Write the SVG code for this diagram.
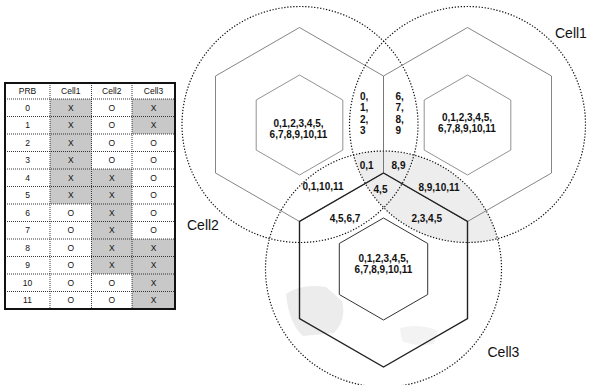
<svg xmlns="http://www.w3.org/2000/svg" width="589" height="385" viewBox="0 0 589 385">
<style>
.circ{fill:none;stroke:#111;stroke-width:1.2;stroke-dasharray:1.3 1.7}
.hex{fill:none;stroke:#777;stroke-width:0.9}
.hex3{fill:none;stroke:#222;stroke-width:1.4}
.ihex{fill:none;stroke:#777;stroke-width:0.8}
.ihex3{fill:none;stroke:#333;stroke-width:1}
.num{font-family:"Liberation Sans",Arial,sans-serif;font-size:10px;font-weight:bold;fill:#111;text-anchor:middle}
.col{font-family:"Liberation Sans",Arial,sans-serif;font-size:10px;font-weight:bold;fill:#111}
.lbl{font-family:"Liberation Sans",Arial,sans-serif;font-size:14px;fill:#111}
.tt{font-family:"Liberation Sans",Arial,sans-serif;font-size:8.5px;fill:#111;text-anchor:middle}
.grid{stroke:#222;stroke-width:0.9;stroke-dasharray:1 1;fill:none}
.shade{fill:#c8c8c8}
</style>
<defs>
<clipPath id="c1clip"><circle cx="467.5" cy="124.5" r="118"/></clipPath>
<clipPath id="c3clip"><circle cx="383.5" cy="269" r="118"/></clipPath>
</defs>
<rect width="589" height="385" fill="#fff"/>

<g id="table">
<rect class="shade" x="50" y="99" width="41.5" height="105"/>
<rect class="shade" x="91.5" y="169" width="40.5" height="105"/>
<rect class="shade" x="132" y="99" width="43" height="35"/>
<rect class="shade" x="132" y="239" width="43" height="70"/>
<g class="grid">
<line x1="50" y1="83" x2="50" y2="309"/>
<line x1="91.5" y1="83" x2="91.5" y2="309"/>
<line x1="132" y1="83" x2="132" y2="309"/>
<line x1="5" y1="99" x2="175" y2="99"/>
<line x1="5" y1="116.5" x2="175" y2="116.5"/>
<line x1="5" y1="134" x2="175" y2="134"/>
<line x1="5" y1="151.5" x2="175" y2="151.5"/>
<line x1="5" y1="169" x2="175" y2="169"/>
<line x1="5" y1="186.5" x2="175" y2="186.5"/>
<line x1="5" y1="204" x2="175" y2="204"/>
<line x1="5" y1="221.5" x2="175" y2="221.5"/>
<line x1="5" y1="239" x2="175" y2="239"/>
<line x1="5" y1="256.5" x2="175" y2="256.5"/>
<line x1="5" y1="274" x2="175" y2="274"/>
<line x1="5" y1="291.5" x2="175" y2="291.5"/>
</g>
<rect x="5" y="83" width="170" height="226" fill="none" stroke="#111" stroke-width="2"/>
<g class="tt">
<text x="27.5" y="94">PRB</text><text x="70.75" y="94">Cell1</text><text x="111.75" y="94">Cell2</text><text x="153.5" y="94">Cell3</text>
<text x="27.5" y="110.75">0</text><text x="70.75" y="110.75">X</text><text x="111.75" y="110.75">O</text><text x="153.5" y="110.75">X</text>
<text x="27.5" y="128.25">1</text><text x="70.75" y="128.25">X</text><text x="111.75" y="128.25">O</text><text x="153.5" y="128.25">X</text>
<text x="27.5" y="145.75">2</text><text x="70.75" y="145.75">X</text><text x="111.75" y="145.75">O</text><text x="153.5" y="145.75">O</text>
<text x="27.5" y="163.25">3</text><text x="70.75" y="163.25">X</text><text x="111.75" y="163.25">O</text><text x="153.5" y="163.25">O</text>
<text x="27.5" y="180.75">4</text><text x="70.75" y="180.75">X</text><text x="111.75" y="180.75">X</text><text x="153.5" y="180.75">O</text>
<text x="27.5" y="198.25">5</text><text x="70.75" y="198.25">X</text><text x="111.75" y="198.25">X</text><text x="153.5" y="198.25">O</text>
<text x="27.5" y="215.75">6</text><text x="70.75" y="215.75">O</text><text x="111.75" y="215.75">X</text><text x="153.5" y="215.75">O</text>
<text x="27.5" y="233.25">7</text><text x="70.75" y="233.25">O</text><text x="111.75" y="233.25">X</text><text x="153.5" y="233.25">O</text>
<text x="27.5" y="250.75">8</text><text x="70.75" y="250.75">O</text><text x="111.75" y="250.75">X</text><text x="153.5" y="250.75">X</text>
<text x="27.5" y="268.25">9</text><text x="70.75" y="268.25">O</text><text x="111.75" y="268.25">X</text><text x="153.5" y="268.25">X</text>
<text x="27.5" y="285.75">10</text><text x="70.75" y="285.75">O</text><text x="111.75" y="285.75">O</text><text x="153.5" y="285.75">X</text>
<text x="27.5" y="303.25">11</text><text x="70.75" y="303.25">O</text><text x="111.75" y="303.25">O</text><text x="153.5" y="303.25">X</text>
</g>
</g>

<g id="shading">
<circle cx="383.5" cy="269" r="118" fill="#ededed" clip-path="url(#c1clip)"/>
<path d="M286,294 Q302,283 326,287 L342,301 Q347,319 334,333 L303,336 Q289,324 286,294 Z" fill="#ececec" clip-path="url(#c3clip)"/>
<path d="M400,328 Q420,323 438,331 L434,344 Q415,347 402,341 Z" fill="#f3f3f3"/>
</g>

<g id="cell2">
<circle class="circ" cx="300" cy="124.5" r="118"/>
<polygon class="hex" points="299.5,27.5 383.5,76 383.5,173 299.5,221.5 215.5,173 215.5,76"/>
<polygon class="ihex" points="299.5,75 342.8,100 342.8,150 299.5,175 256.2,150 256.2,100"/>
<text class="num" x="298.5" y="127">0,1,2,3,4,5,</text>
<text class="num" x="298.5" y="138">6,7,8,9,10,11</text>
<text class="lbl" x="187" y="230">Cell2</text>
</g>

<g id="cell1">
<circle class="circ" cx="467.5" cy="124.5" r="118"/>
<polygon class="hex" points="467.5,27.5 551.5,76 551.5,173 467.5,221.5 383.5,173 383.5,76"/>
<polygon class="ihex" points="467.5,75 510.8,100 510.8,150 467.5,175 424.2,150 424.2,100"/>
<text class="num" x="467" y="121">0,1,2,3,4,5,</text>
<text class="num" x="467" y="132">6,7,8,9,10,11</text>
<text class="lbl" x="555" y="38">Cell1</text>
</g>

<g id="cell3">
<circle class="circ" cx="383.5" cy="269" r="118"/>
<polygon class="hex3" points="383.5,173 467.5,221.5 467.5,318.5 383.5,367 299.5,318.5 299.5,221.5"/>
<polygon class="ihex3" points="383.5,218 427.7,243.5 427.7,294.5 383.5,320 339.3,294.5 339.3,243.5"/>
<text class="num" x="383.5" y="261.5">0,1,2,3,4,5,</text>
<text class="num" x="383.5" y="272.5">6,7,8,9,10,11</text>
<text class="lbl" x="487.5" y="357">Cell3</text>
</g>

<g id="regions">
<text class="col" x="360" y="99.5">0,</text>
<text class="col" x="360" y="111">1,</text>
<text class="col" x="360" y="122.5">2,</text>
<text class="col" x="360" y="134">3</text>
<text class="col" x="395.5" y="99.5">6,</text>
<text class="col" x="395.5" y="111">7,</text>
<text class="col" x="395.5" y="122.5">8,</text>
<text class="col" x="395.5" y="134">9</text>
<text class="num" x="366.7" y="169">0,1</text>
<text class="num" x="398.5" y="169">8,9</text>
<text class="num" x="380.5" y="193">4,5</text>
<text class="num" x="323" y="190">0,1,10,11</text>
<text class="num" x="439" y="190.5">8,9,10,11</text>
<text class="num" x="345" y="222.3">4,5,6,7</text>
<text class="num" x="426.7" y="222.3">2,3,4,5</text>
</g>
</svg>
